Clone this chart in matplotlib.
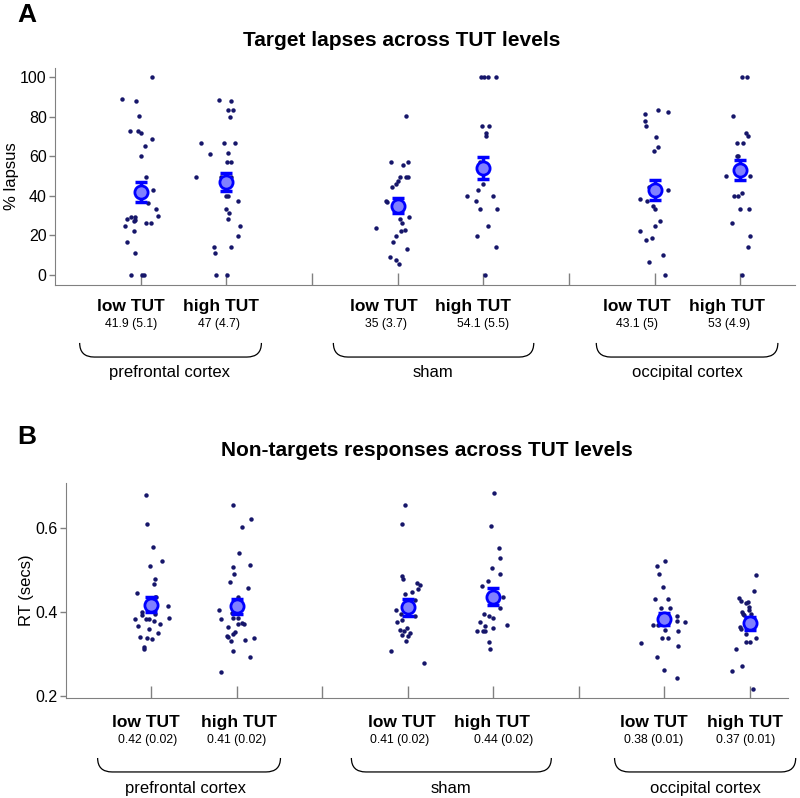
import matplotlib
matplotlib.use("Agg")
import matplotlib.pyplot as plt
from matplotlib.path import Path
from matplotlib.patches import PathPatch

plt.rcParams['font.family'] = ['Liberation Sans', 'DejaVu Sans']

# ---------------- data ----------------
positions = [1, 2, 4, 5, 7, 8]          # low/high TUT for pfc, sham, occipital
conditions = ['low TUT', 'high TUT'] * 3
regions = ['prefrontal cortex', 'sham', 'occipital cortex']

# panel A : % lapsus per subject
lapse_vals = [
    [100, 89.0, 87.7, 80.1, 72.8, 72.5, 71.5, 68.8, 64.9, 60.2, 49.7, 42.8, 36.3, 33.2, 29.8,
     28.5, 29.2, 29.2, 27.7, 27.2, 26.5, 26.5, 25.0, 22.3, 16.7, 11.0, 0, 0, 0],
    [88.4, 87.7, 83.3, 83.3, 79.9, 66.8, 66.8, 66.8, 61.0, 61.4, 57.0, 57.0, 49.7, 49.7, 49.7,
     39.8, 39.8, 37.4, 33.2, 31.2, 28.5, 25.0, 19.9, 14.2, 14.2, 11.0, 0, 0],
    [80.1, 57.2, 57.2, 55.6, 49.7, 49.7, 49.7, 47.6, 46.2, 44.5, 37.3, 37.1, 28.5, 29.2, 26.5,
     23.6, 22.9, 22.3, 19.9, 16.5, 13.3, 8.9, 7.6, 5.7],
    [100, 100, 100, 100, 75.0, 75.0, 71.5, 70.2, 57.3, 46.2, 42.7, 39.8, 39.8, 37.4, 33.2,
     33.2, 25.0, 19.9, 14.2, 0],
    [83.5, 82.1, 81.3, 77.6, 75.0, 69.5, 64.8, 62.4, 44.2, 42.8, 38.4, 37.4, 34.7, 33.1, 27.5,
     24.8, 22.3, 17.9, 18.9, 10.1, 6.6, 0],
    [100, 100, 80.1, 71.5, 70.3, 66.8, 66.8, 60.2, 60.2, 49.9, 49.9, 39.8, 39.8, 41.5, 33.2,
     33.2, 26.5, 19.9, 14.2, 0],
]
lapse_jit = [
    [0.136, -0.218, -0.054, -0.016, -0.125, -0.035, 0.008, 0.136, 0.051, 0.004, 0.058, 0.144,
     0.082, 0.183, 0.198, -0.163, -0.113, -0.066, -0.062, -0.074, 0.058, 0.121, -0.187, -0.082,
     -0.156, -0.066, -0.117, 0.012, 0.035],
    [-0.089, 0.051, 0.016, 0.078, 0.039, -0.296, -0.027, 0.101, -0.187, 0.023, 0.008, 0.054,
     -0.358, -0.058, 0.05, 0.0, 0.016, 0.140, -0.008, 0.035, 0.023, 0.156, 0.132, -0.144, 0.058,
     -0.128, -0.121, 0.012],
    [0.098, -0.078, 0.117, 0.063, 0.031, 0.094, 0.125, 0.0, -0.023, -0.070, -0.137, -0.125,
     0.023, 0.129, 0.055, -0.254, 0.090, 0.039, -0.023, -0.055, 0.109, -0.094, -0.023, 0.020],
    [-0.031, 0.012, 0.055, 0.148, -0.016, 0.070, 0.031, 0.035, -0.043, 0.0, -0.058, -0.191,
     0.117, -0.090, -0.043, 0.156, 0.055, -0.074, 0.148, 0.016],
    [0.039, 0.156, -0.117, -0.113, -0.105, 0.016, 0.043, -0.004, -0.066, 0.163, -0.175, -0.093,
     -0.019, 0.008, 0.066, 0.0, -0.167, -0.097, -0.027, 0.093, -0.070, 0.125],
    [0.027, 0.074, -0.086, 0.066, 0.089, -0.035, 0.031, -0.043, -0.027, -0.171, 0.117, -0.078,
     -0.031, 0.019, 0.0, 0.101, -0.093, 0.117, 0.093, 0.016],
]
lapse_mean = [41.9, 47, 35, 54.1, 43.1, 53]
lapse_sem = [5.1, 4.7, 3.7, 5.5, 5, 4.9]

# panel B : RT (secs) per subject
rt_vals = [
    [0.679, 0.610, 0.555, 0.522, 0.511, 0.480, 0.466, 0.446, 0.435, 0.435, 0.415, 0.401, 0.394,
     0.395, 0.384, 0.384, 0.384, 0.379, 0.386, 0.367, 0.371, 0.360, 0.350, 0.340, 0.338, 0.336,
     0.317, 0.313],
    [0.655, 0.623, 0.602, 0.541, 0.508, 0.512, 0.490, 0.471, 0.458, 0.437, 0.406, 0.384, 0.397,
     0.386, 0.386, 0.365, 0.375, 0.371, 0.371, 0.352, 0.348, 0.344, 0.341, 0.332, 0.337, 0.333,
     0.306, 0.293, 0.256],
    [0.655, 0.611, 0.485, 0.479, 0.470, 0.464, 0.456, 0.448, 0.443, 0.429, 0.404, 0.396, 0.391,
     0.377, 0.381, 0.358, 0.356, 0.363, 0.350, 0.345, 0.342, 0.331, 0.306, 0.279],
    [0.685, 0.605, 0.552, 0.530, 0.504, 0.490, 0.475, 0.462, 0.435, 0.409, 0.395, 0.390, 0.387,
     0.376, 0.367, 0.363, 0.368, 0.355, 0.355, 0.356, 0.329, 0.311],
    [0.521, 0.510, 0.491, 0.459, 0.431, 0.431, 0.409, 0.409, 0.390, 0.379, 0.376, 0.368, 0.368,
     0.357, 0.356, 0.337, 0.337, 0.326, 0.320, 0.294, 0.263, 0.243],
    [0.488, 0.451, 0.434, 0.427, 0.421, 0.423, 0.412, 0.406, 0.400, 0.396, 0.396, 0.392, 0.365,
     0.360, 0.348, 0.338, 0.328, 0.328, 0.313, 0.272, 0.260, 0.217],
]
rt_jit = [
    [-0.058, -0.051, 0.023, 0.128, -0.012, 0.047, 0.027, -0.167, 0.040, 0.054, 0.191, -0.105,
     -0.113, 0.039, -0.198, -0.058, -0.023, 0.031, 0.206, -0.160, 0.105, -0.023, 0.078, -0.136,
     -0.054, 0.008, -0.082, -0.082],
    [-0.051, 0.171, 0.054, 0.023, -0.043, 0.152, -0.031, -0.082, 0.128, 0.008, -0.206, -0.183,
     -0.054, -0.051, 0.016, -0.101, 0.062, 0.078, 0.012, -0.027, -0.043, -0.113, -0.101, -0.074,
     0.198, 0.097, -0.051, 0.152, -0.183],
    [-0.027, -0.070, -0.066, -0.051, 0.105, 0.148, 0.117, 0.051, -0.031, 0.086, -0.132, -0.078,
     0.089, -0.125, -0.062, -0.086, -0.039, -0.008, 0.023, -0.062, 0.0, -0.023, -0.195, 0.187],
    [0.012, -0.023, 0.070, 0.078, -0.019, 0.074, -0.058, -0.128, 0.109, 0.082, -0.105, -0.051,
     -0.008, -0.152, -0.097, 0.0, 0.163, -0.191, -0.117, -0.101, -0.051, -0.035],
    [0.008, -0.086, -0.054, -0.016, -0.101, 0.047, -0.039, 0.066, 0.152, 0.152, 0.241, -0.125,
     -0.074, 0.016, 0.160, -0.023, 0.047, -0.272, 0.160, -0.078, -0.004, 0.152],
    [0.070, 0.047, -0.125, -0.097, -0.047, -0.023, -0.004, -0.012, -0.093, -0.078, 0.016, -0.062,
     -0.117, -0.097, -0.039, 0.078, -0.047, 0.0, -0.160, -0.093, -0.202, 0.035],
]
rt_mean = [0.418, 0.414, 0.411, 0.437, 0.383, 0.373]
rt_sem = [0.018, 0.018, 0.02, 0.02, 0.015, 0.015]
rt_txt_mean = ['0.42', '0.41', '0.41', '0.44', '0.38', '0.37']
rt_txt_sem = ['0.02', '0.02', '0.02', '0.02', '0.01', '0.01']
lapse_txt_mean = ['41.9', '47', '35', '54.1', '43.1', '53']
lapse_txt_sem = ['5.1', '4.7', '3.7', '5.5', '5', '4.9']

DOT = '#16166a'
GRAY = '#808080'


def brace(ax, x0, x1, ytop, ybot, r):
    verts = [(x0, ytop), (x0, ybot), (x0 + r, ybot), (x1 - r, ybot), (x1, ybot), (x1, ytop)]
    codes = [Path.MOVETO, Path.CURVE3, Path.CURVE3, Path.LINETO, Path.CURVE3, Path.CURVE3]
    ax.add_patch(PathPatch(Path(verts, codes), transform=ax.get_xaxis_transform(),
                           fill=False, lw=0.9, color='black', clip_on=False))


def panel(ax, vals, jit, mean, sem, txt_mean, txt_sem, lay):
    for p, v, j in zip(positions, vals, jit):
        ax.plot([p + d for d in j], v, 'o', color=DOT, ms=3.2, mew=0, zorder=2)
    ax.errorbar(positions, mean, yerr=sem, fmt='none', ecolor='#0000ff', elinewidth=2.5,
                capsize=4.5, capthick=2.5, zorder=3)
    ax.plot(positions, mean, 'o', ms=9.5, mfc='#8080ff', mec='#0000ff', mew=2, zorder=4)

    ax.set_xticks([1, 2, 3, 4, 5, 6, 7, 8])
    ax.set_xticklabels([])
    for s in ['top', 'right']:
        ax.spines[s].set_visible(False)
    for s in ['left', 'bottom']:
        ax.spines[s].set_color(GRAY)
    ax.tick_params(axis='x', direction='in', length=9, color=GRAY, width=1)
    ax.tick_params(axis='y', direction='out', length=4, color=GRAY, width=1, labelsize=11.5,
                   pad=2)

    tr = ax.get_xaxis_transform()
    for i in range(6):
        ax.text(lay['cond_x'][i], lay['y_cond'], conditions[i], transform=tr, ha='center',
                va='center', fontsize=12.5, fontweight='bold')
        ax.text(lay['num_x'][i], lay['y_num'], txt_mean[i] + ' (' + txt_sem[i] + ')',
                transform=tr, ha='center', va='center', fontsize=8.8)
    for k in range(3):
        x0, x1 = lay['brace'][k]
        brace(ax, x0, x1, lay['y_brace'][0], lay['y_brace'][1], 0.17)
        ax.text(lay['reg_x'][k], lay['y_reg'], regions[k], transform=tr, ha='center',
                va='center', fontsize=12)


fig = plt.figure(figsize=(8, 7.98), dpi=100)

axA = fig.add_axes([55 / 800, 1 - 285 / 798, 740 / 800, 217 / 798])
layA = dict(cond_x=[0.883, 1.933, 3.835, 4.886, 6.79, 7.85],
            num_x=[0.883, 1.92, 3.87, 5.0, 6.8, 7.87],
            brace=[(0.288, 2.41), (3.25, 5.59), (6.32, 8.44)],
            reg_x=[1.34, 4.41, 7.38],
            y_cond=-0.097, y_num=-0.18, y_brace=(-0.267, -0.332), y_reg=-0.401)
panel(axA, lapse_vals, lapse_jit, lapse_mean, lapse_sem, lapse_txt_mean, lapse_txt_sem, layA)
axA.set_xlim(0, 8.64)
axA.set_ylim(-5, 104.5)
axA.set_yticks([0, 20, 40, 60, 80, 100])
axA.set_ylabel('% lapsus', fontsize=12)
axA.yaxis.set_label_coords(-0.048, 0.5)

axB = fig.add_axes([66 / 800, 1 - 698 / 798, 722 / 800, 215 / 798])
layB = dict(cond_x=[0.94, 2.02, 3.93, 4.99, 6.88, 7.95],
            num_x=[0.95, 2.0, 3.91, 5.12, 6.88, 7.95],
            brace=[(0.37, 2.51), (3.34, 5.68), (6.42, 8.54)],
            reg_x=[1.40, 4.50, 7.48],
            y_cond=-0.112, y_num=-0.195, y_brace=(-0.279, -0.344), y_reg=-0.423)
panel(axB, rt_vals, rt_jit, rt_mean, rt_sem, rt_txt_mean, rt_txt_sem, layB)
axB.set_xlim(0, 8.45)
axB.set_ylim(0.195, 0.708)
axB.set_yticks([0.2, 0.4, 0.6])
axB.set_ylabel('RT (secs)', fontsize=12)
axB.yaxis.set_label_coords(-0.044, 0.5)

fig.text(402 / 800, 1 - 41 / 798, 'Target lapses across TUT levels', ha='center', va='center',
         fontsize=15, fontweight='bold')
fig.text(427 / 800, 1 - 450 / 798, 'Non-targets responses across TUT levels', ha='center',
         va='center', fontsize=15, fontweight='bold')
fig.text(27 / 800, 1 - 15 / 798, 'A', ha='center', va='center', fontsize=19, fontweight='bold')
fig.text(27 / 800, 1 - 437 / 798, 'B', ha='center', va='center', fontsize=19, fontweight='bold')

fig.savefig('out.png', dpi=100)
